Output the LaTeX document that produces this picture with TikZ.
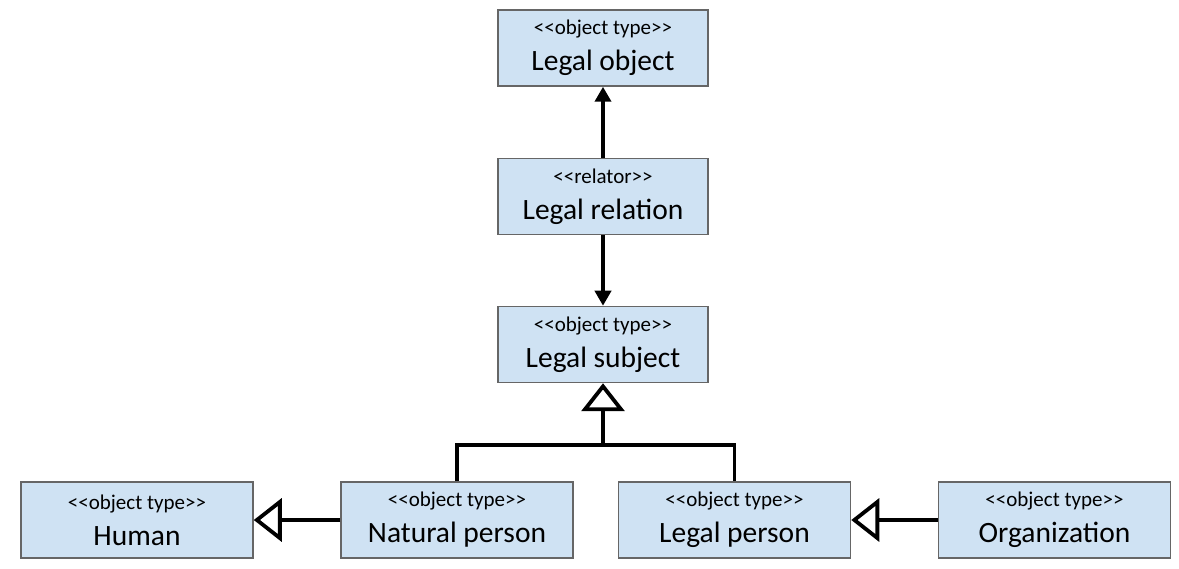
\documentclass[tikz,border=0pt]{standalone}
\usepackage{fontspec}
\setmainfont{Carlito}
\usetikzlibrary{arrows.meta}
\definecolor{boxblue}{RGB}{207,226,243}
\definecolor{boxgray}{RGB}{102,102,102}
\newcommand{\stereo}[1]{{\fontsize{21}{25}\selectfont <\kern0pt<#1>\kern0pt>}}
\tikzset{%
    umlbox/.style={%
        draw=boxgray, fill=boxblue, line width=1.5pt, align=center,
        minimum height=76pt, inner sep=0pt,
        font=\fontsize{29.5}{36}\selectfont
    },
    assoc/.style={-{Triangle[length=15pt,width=16pt]}, line width=3.8pt},
    gener/.style={-{Triangle[open,fill=white,length=28pt,width=43pt]}, line width=3.8pt}
}

\begin{document}
\begin{tikzpicture}[x=1pt,y=-1pt]
    \useasboundingbox (0,0) rectangle (1179,569);
    \node[umlbox,minimum width=210pt] (lobj) at (603,48) {\stereo{object type}\\Legal object};
    \node[umlbox,minimum width=210pt] (lrel) at (603,196.5) {\stereo{relator}\\Legal relation};
    \node[umlbox,minimum width=210pt] (lsubj) at (603,344.5) {\stereo{object type}\\Legal subject};
    \node[umlbox,minimum width=232pt] (human) at (137,520) {\stereo{object type}\\Human};
    \node[umlbox,minimum width=232pt] (natp) at (457,520) {\stereo{object type}\\Natural person};
    \node[umlbox,minimum width=232pt] (legp) at (734.5,520) {\stereo{object type}\\Legal person};
    \node[umlbox,minimum width=232pt] (org) at (1054.5,520) {\stereo{object type}\\Organization};
    \coordinate (bar) at (603,445);
    \draw[assoc] (lrel) -- (lobj);
    \draw[assoc] (lrel) -- (lsubj);
    \draw[line width=3.8pt] (natp.north) |- (bar) -| (legp.north);
    \draw[gener] (bar) -- (lsubj);
    \draw[gener] (natp) -- (human);
    \draw[gener] (org) -- (legp);
\end{tikzpicture}
\end{document}
